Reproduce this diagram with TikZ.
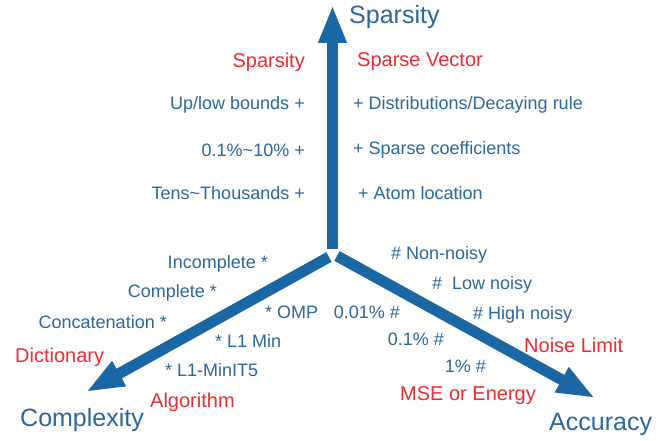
\documentclass[tikz,border=0pt]{standalone}
\usepackage{fontspec}
\setmainfont{Liberation Sans}
\usetikzlibrary{arrows.meta}
\definecolor{axisblue}{HTML}{1A67A3}
\definecolor{txtblue}{HTML}{2B669C}
\definecolor{txtred}{HTML}{EE2B30}
\tikzset{
  axis/.style={draw=axisblue, line width=11pt,
    -{Triangle[length=38pt,width=26pt]}},
  txt/.style={inner sep=0pt, yshift=-2pt},
  lbl/.style={txt, text=txtblue, font=\fontsize{18}{20}\selectfont},
  cat/.style={txt, text=txtred, font=\fontsize{20}{22}\selectfont},
  ttl/.style={txt, text=txtblue, font=\fontsize{25}{28}\selectfont},
}
\begin{document}
\begin{tikzpicture}[x=1pt,y=-1pt]
\useasboundingbox (0,0) rectangle (672,441);
% axis origins and tips
\coordinate (oup) at (332.5,249);
\coordinate (oleft) at (329,257);
\coordinate (oright) at (337,256);
\coordinate (tup) at (332.5,5);
\coordinate (tleft) at (86,392);
\coordinate (tright) at (595,398);
\draw[axis] (oup) -- (tup);
\draw[axis] (oleft) -- (tleft);
\draw[axis] (oright) -- (tright);

% axis titles
\node[ttl, anchor=west] (tsp) at (349,15) {Sparsity};
\node[ttl, anchor=west] (tcx) at (20,418) {Complexity};
\node[ttl, anchor=west] (tac) at (549,422) {Accuracy};

% sparsity axis
\node[cat, anchor=east] (csp) at (305,60) {Sparsity};
\node[cat, anchor=west] (csv) at (357,60) {Sparse Vector};
\node[lbl, anchor=east] (s1) at (305,103) {Up/low bounds +};
\node[lbl, anchor=east] (s2) at (305,148) {0.1\%\textasciitilde10\% +};
\node[lbl, anchor=east] (s3) at (305,191) {Tens\textasciitilde Thousands +};
\node[lbl, anchor=west] (v1) at (353,103) {+ Distributions/Decaying rule};
\node[lbl, anchor=west] (v2) at (353,148) {+ Sparse coefficients};
\node[lbl, anchor=west] (v3) at (358,191) {+ Atom location};

% complexity axis
\node[lbl, anchor=east] (d1) at (268,262) {Incomplete *};
\node[lbl, anchor=east] (d2) at (217,291) {Complete *};
\node[lbl, anchor=east] (d3) at (167,320) {Concatenation *};
\node[cat, anchor=west] (cdi) at (15,355) {Dictionary};
\node[lbl, anchor=west] (a1) at (265,310) {* OMP};
\node[lbl, anchor=west] (a2) at (215,339) {* L1 Min};
\node[lbl, anchor=west] (a3) at (165,368) {* L1-MinIT5};
\node[cat, anchor=west] (cal) at (150,400) {Algorithm};

% accuracy axis
\node[lbl, anchor=west] (n1) at (391,253) {\# Non-noisy};
\node[lbl, anchor=west] (n2) at (432,283) {\#\ \ Low noisy};
\node[lbl, anchor=west] (n3) at (473,313) {\# High noisy};
\node[cat, anchor=west] (cnl) at (524,343) {Noise Limit};
\node[lbl, anchor=east] (m1) at (400,310) {0.01\% \#};
\node[lbl, anchor=east] (m2) at (444,337) {0.1\% \#};
\node[lbl, anchor=east] (m3) at (486,364) {1\% \#};
\node[cat, anchor=west] (cme) at (400,394) {MSE or Energy};
\end{tikzpicture}
\end{document}
